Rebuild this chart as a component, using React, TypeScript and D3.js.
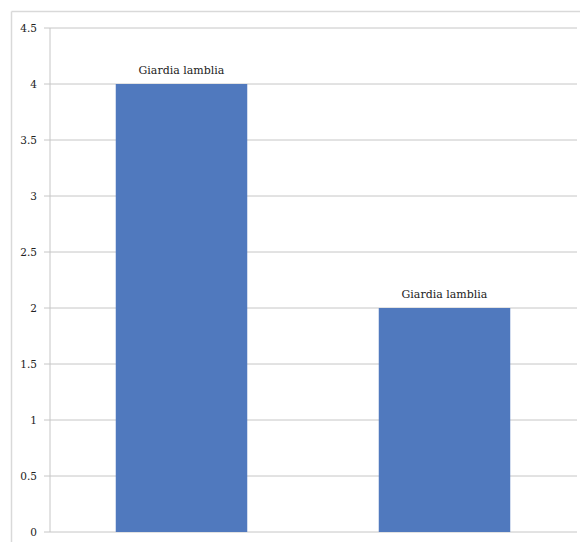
import React from "react";
import * as d3 from "d3";

const categories = ["A", "B"];
const values = [4, 2];
const barLabels = ["Giardia lamblia", "Giardia lamblia"];
const yTicks = [0, 0.5, 1, 1.5, 2, 2.5, 3, 3.5, 4, 4.5];

export default function App() {
  const W = 580, H = 542;
  const left = 50, right = 577, top = 28, bottom = 532;
  const x = d3.scaleBand<string>().domain(categories).range([left, 576]).paddingInner(0.5).paddingOuter(0.25);
  const y = d3.scaleLinear().domain([0, 4.5]).range([bottom, top]);
  const font = "DejaVu Serif";
  return (
    <svg width={W} height={H} style={{ position: "absolute", left: 0, top: 0, fontFamily: font }}>
      <rect x={0} y={0} width={W} height={H} fill="#fff" />
      <line x1={11.5} y1={11.5} x2={W} y2={11.5} stroke="#d9d9d9" strokeWidth={1.5} />
      <line x1={11.5} y1={11.5} x2={11.5} y2={H} stroke="#d9d9d9" strokeWidth={1.5} />
      {yTicks.map((t) => (
        <g key={t}>
          <line x1={44} x2={right} y1={y(t)} y2={y(t)} stroke="#c6c6c6" strokeWidth={1} />
          <text x={37} y={y(t)} dy="0.35em" textAnchor="end" fontSize={10.5} fill="#222">
            {t}
          </text>
        </g>
      ))}
      <line x1={left} x2={left} y1={top} y2={bottom} stroke="#c6c6c6" strokeWidth={1} />
      {categories.map((c, i) => (
        <g key={c}>
          <rect x={x(c)} y={y(values[i])} width={x.bandwidth()} height={bottom - y(values[i])} fill="#5079be" />
          <text x={(x(c) as number) + x.bandwidth() / 2} y={y(values[i]) - 10} textAnchor="middle" fontSize={11} fill="#222">
            {barLabels[i]}
          </text>
        </g>
      ))}
    </svg>
  );
}
